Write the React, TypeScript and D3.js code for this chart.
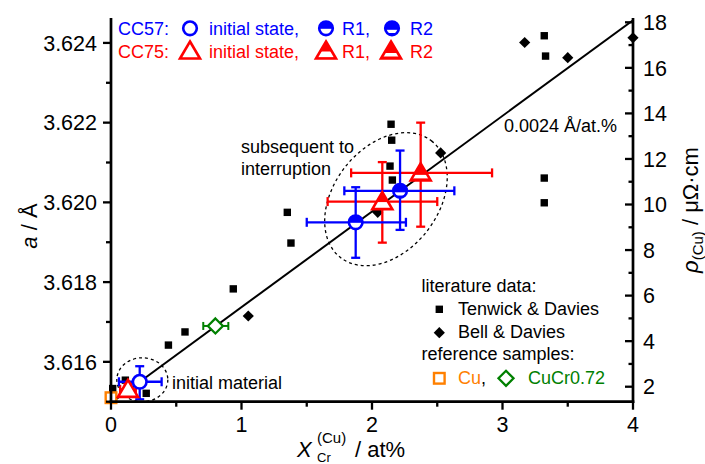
import React from 'react';
import * as d3 from 'd3';

const W = 705;
const H = 464;
const FONT = '"Liberation Sans", Arial, sans-serif';
const BLUE = '#0000ff';
const RED = '#ff0000';
const ORANGE = '#ff8000';
const GREEN = '#008000';

// axis ticks
const xMajor = [0, 1, 2, 3, 4];
const xMinor = [0.5, 1.5, 2.5, 3.5];
const aMajor = [3.616, 3.618, 3.62, 3.622, 3.624];
const aMinor = [3.615, 3.617, 3.619, 3.621, 3.623];
const rhoMajor = [2, 4, 6, 8, 10, 12, 14, 16, 18];
const rhoMinor = [3, 5, 7, 9, 11, 13, 15, 17];

// literature data: Tenwick & Davies (squares)
const tenwickX = [0.013, 0.11, 0.27, 0.44, 0.567, 0.937, 1.351, 1.379, 2.146, 2.151, 2.138, 2.156, 3.32, 3.33, 3.32, 3.32];
const tenwickA = [3.61533, 3.61554, 3.61521, 3.61642, 3.61675, 3.61783, 3.61975, 3.61898, 3.62196, 3.62156, 3.62091, 3.62056, 3.62418, 3.62367, 3.62061, 3.61999];
// Bell & Davies (diamonds)
const bellX = [1.052, 2.044, 2.526, 3.17, 3.5, 4.0];
const bellA = [3.61715, 3.61975, 3.62124, 3.62401, 3.62363, 3.62413];

// CC57 samples: initial, R1, R2
const cc57X = [0.22, 1.875, 2.215];
const cc57A = [3.6155, 3.6195, 3.62029];
const cc57XLo = [0.061, 1.5, 1.788];
const cc57XHi = [0.388, 2.26, 2.631];
const cc57ALo = [3.61506, 3.61861, 3.61931];
const cc57AHi = [3.61589, 3.62038, 3.6213];

// CC75 samples: initial, R1, R2
const cc75X = [0.13, 2.079, 2.373];
const cc75A = [3.61531, 3.62002, 3.62074];
const cc75XLo = [0.07, 1.66, 1.84];
const cc75XHi = [0.19, 2.5, 2.92];
const cc75ALo = [3.61516, 3.61899, 3.61939];
const cc75AHi = [3.61546, 3.62101, 3.622];

// reference samples
const cuX = 0;
const cuA = 3.6151;
const cucrX = 0.8;
const cucrA = 3.6169;
const cucrXLo = 0.707;
const cucrXHi = 0.899;

// linear fit: 0.0024 Å/at.%
const fitSlope = 0.0024;
const fitIntercept = 3.61497;

const x = d3.scaleLinear().domain([0, 4]).range([111, 633]);
const y = d3.scaleLinear().domain([3.615, 3.6246]).range([401.7, 19]);
const yR = d3.scaleLinear().domain([1.342, 18.145]).range([401.7, 19]);

const tri = (cx: number, cy: number, s = 1) =>
  `M${cx},${cy - 9.5 * s}L${cx + 10 * s},${cy + 7.5 * s}L${cx - 10 * s},${cy + 7.5 * s}Z`;

function Circle({ cx, cy, kind, color, id }: any) {
  const r = 6.8;
  return (
    <g>
      <defs>
        <clipPath id={id}>
          <circle cx={cx} cy={cy} r={r} />
        </clipPath>
      </defs>
      <circle cx={cx} cy={cy} r={r} fill={kind === 'init' ? '#fff' : color} />
      {kind === 'r1' && <rect x={cx - r} y={cy + 0.5} width={2 * r} height={r} fill="#fff" clipPath={`url(#${id})`} />}
      {kind === 'r2' && <rect x={cx - r} y={cy + 1.5} width={2 * r} height={3.2} fill="#fff" clipPath={`url(#${id})`} />}
      <circle cx={cx} cy={cy} r={r} fill="none" stroke={color} strokeWidth={2.6} />
    </g>
  );
}

function Tri({ cx, cy, kind, color, id }: any) {
  const d = tri(cx, cy);
  return (
    <g>
      <defs>
        <clipPath id={id}>
          <path d={d} />
        </clipPath>
      </defs>
      <path d={d} fill={kind === 'init' ? '#fff' : color} />
      {kind === 'r1' && <rect x={cx - 12} y={cy + 0.5} width={24} height={6} fill="#fff" clipPath={`url(#${id})`} />}
      {kind === 'r2' && <rect x={cx - 12} y={cy + 2} width={24} height={3.5} fill="#fff" clipPath={`url(#${id})`} />}
      <path d={d} fill="none" stroke={color} strokeWidth={2.6} strokeLinejoin="miter" />
    </g>
  );
}

function ErrBar({ px, pa, xlo, xhi, alo, ahi, color, sw = 2.3, cap = 4.5 }: any) {
  const cx = x(px), cy = y(pa);
  const x0 = x(xlo), x1 = x(xhi), y0 = y(alo), y1 = y(ahi);
  return (
    <g stroke={color} strokeWidth={sw} fill="none">
      <line x1={x0} y1={cy} x2={x1} y2={cy} />
      <line x1={x0} y1={cy - cap} x2={x0} y2={cy + cap} />
      <line x1={x1} y1={cy - cap} x2={x1} y2={cy + cap} />
      {alo !== undefined && (
        <>
          <line x1={cx} y1={y0} x2={cx} y2={y1} />
          <line x1={cx - cap} y1={y0} x2={cx + cap} y2={y0} />
          <line x1={cx - cap} y1={y1} x2={cx + cap} y2={y1} />
        </>
      )}
    </g>
  );
}

const diamond = (cx: number, cy: number, hw: number, hh: number) =>
  `M${cx},${cy - hh}L${cx + hw},${cy}L${cx},${cy + hh}L${cx - hw},${cy}Z`;

export default function App() {
  const kinds = ['init', 'r1', 'r2'];
  const x0 = x(0), x4 = x(4), yb = y(3.615), yt = y(3.6246);
  return (
    <svg width={W} height={H} style={{ position: 'absolute', left: 0, top: 0, background: '#fff' }} fontFamily={FONT}>
      <defs>
        <clipPath id="plotclip">
          <rect x={x0} y={yt} width={x4 - x0} height={yb - yt} />
        </clipPath>
      </defs>

      {/* literature data */}
      {tenwickX.map((v, i) => (
        <rect key={'t' + i} x={x(v) - 3.7} y={y(tenwickA[i]) - 3.7} width={7.4} height={7.4} fill="#000" />
      ))}
      {bellX.map((v, i) => (
        <path key={'b' + i} d={diamond(x(v), y(bellA[i]), 5.6, 5.6)} fill="#000" />
      ))}

      {/* fit line */}
      <line
        clipPath="url(#plotclip)"
        x1={x(0)} y1={y(fitIntercept)} x2={x(4)} y2={y(fitIntercept + fitSlope * 4)}
        stroke="#000" strokeWidth={2}
      />

      {/* dashed ellipses */}
      <ellipse cx={x(0.24)} cy={y(3.61555)} rx={25.5} ry={22} fill="none" stroke="#000" strokeWidth={1.3} strokeDasharray="3,3" />
      <ellipse
        cx={0} cy={0} rx={74} ry={52}
        transform={`translate(${x(2.107)},${y(3.62008)}) rotate(-52)`}
        fill="none" stroke="#000" strokeWidth={1.3} strokeDasharray="3,3"
      />

      {/* reference samples */}
      <ErrBar px={cucrX} pa={cucrA} xlo={cucrXLo} xhi={cucrXHi} color={GREEN} sw={2} cap={4} />
      <path d={diamond(x(cucrX), y(cucrA), 7.5, 7.5)} fill="#fff" stroke={GREEN} strokeWidth={2.3} />
      <rect x={x(cuX) - 5.3} y={y(cuA) - 5.3} width={10.6} height={10.6} fill="#fff" stroke={ORANGE} strokeWidth={2.4} />

      {/* error bars */}
      {cc75X.map((v, i) => (
        <ErrBar key={'e75' + i} px={v} pa={cc75A[i]} xlo={cc75XLo[i]} xhi={cc75XHi[i]} alo={cc75ALo[i]} ahi={cc75AHi[i]} color={RED} />
      ))}
      {cc57X.map((v, i) => (
        <ErrBar key={'e57' + i} px={v} pa={cc57A[i]} xlo={cc57XLo[i]} xhi={cc57XHi[i]} alo={cc57ALo[i]} ahi={cc57AHi[i]} color={BLUE} />
      ))}
      {cc75X.map((v, i) => (
        <Tri key={'m75' + i} id={'ct75' + i} cx={x(v)} cy={y(cc75A[i])} kind={kinds[i]} color={RED} />
      ))}
      {cc57X.map((v, i) => (
        <Circle key={'m57' + i} id={'cc57' + i} cx={x(v)} cy={y(cc57A[i])} kind={kinds[i]} color={BLUE} />
      ))}

      {/* axes */}
      <g stroke="#000" strokeWidth={2.7} fill="none">
        <line x1={x0} y1={yt - 1} x2={x0} y2={yb + 1.3} />
        <line x1={x4} y1={yt - 1} x2={x4} y2={yb + 1.3} />
        <line x1={x0 - 1.3} y1={yb} x2={x4 + 1.3} y2={yb} />
      </g>
      <g stroke="#000" strokeWidth={2.3}>
        {xMajor.map((t) => <line key={'xm' + t} x1={x(t)} x2={x(t)} y1={yb} y2={yb + 8} />)}
        {xMinor.map((t) => <line key={'xn' + t} x1={x(t)} x2={x(t)} y1={yb} y2={yb + 5} />)}
        {aMajor.map((t) => <line key={'am' + t} x1={x0} x2={x0 - 8} y1={y(t)} y2={y(t)} />)}
        {aMinor.map((t) => <line key={'an' + t} x1={x0} x2={x0 - 5} y1={y(t)} y2={y(t)} />)}
        {rhoMajor.map((t) => <line key={'rm' + t} x1={x4} x2={x4 - 8} y1={yR(t)} y2={yR(t)} />)}
        {rhoMinor.map((t) => <line key={'rn' + t} x1={x4} x2={x4 - 4.5} y1={yR(t)} y2={yR(t)} />)}
      </g>
      <g fontSize={21.5} fill="#000">
        {xMajor.map((t) => (
          <text key={'xl' + t} x={x(t)} y={432} textAnchor="middle">{t}</text>
        ))}
        {aMajor.map((t) => (
          <text key={'al' + t} x={97} y={y(t) + 7.7} textAnchor="end">{d3.format('.3f')(t)}</text>
        ))}
        {rhoMajor.map((t) => (
          <text key={'rl' + t} x={643} y={yR(t) + 7.7} textAnchor="start">{t}</text>
        ))}
      </g>

      {/* axis titles */}
      <text transform="translate(37,226) rotate(-90)" textAnchor="middle" fontSize={22}>
        <tspan fontStyle="italic">a</tspan> / Å
      </text>
      <text transform="translate(698,210) rotate(-90)" textAnchor="middle" fontSize={22}>
        <tspan fontStyle="italic">ρ</tspan>
        <tspan fontSize={15} dy={5}>(Cu)</tspan>
        <tspan dy={-5}> / μΩ·cm</tspan>
      </text>
      <g fill="#000">
        <text x={297} y={457} fontSize={22} fontStyle="italic">X</text>
        <text x={317} y={443} fontSize={15}>(Cu)</text>
        <text x={317} y={462} fontSize={13}>Cr</text>
        <text x={355} y={457} fontSize={22}>/ at%</text>
      </g>

      {/* annotations */}
      <g fontSize={18} fill="#000">
        <text x={241} y={152.5}>subsequent to</text>
        <text x={241} y={175}>interruption</text>
        <text x={172} y={388.5}>initial material</text>
        <text x={504} y={132}>0.0024 Å/at.%</text>
      </g>

      {/* top-left legend */}
      <g fontSize={18}>
        <text x={118} y={34.5} fill={BLUE}>CC57:</text>
        <Circle id="lg1" cx={190} cy={28.3} kind="init" color={BLUE} />
        <text x={209} y={34.5} fill={BLUE}>initial state,</text>
        <Circle id="lg2" cx={326} cy={28.3} kind="r1" color={BLUE} />
        <text x={342} y={34.5} fill={BLUE}>R1,</text>
        <Circle id="lg3" cx={392} cy={28.3} kind="r2" color={BLUE} />
        <text x={410} y={34.5} fill={BLUE}>R2</text>

        <text x={118} y={57.5} fill={RED}>CC75:</text>
        <Tri id="lg4" cx={190} cy={51} kind="init" color={RED} />
        <text x={209} y={57.5} fill={RED}>initial state,</text>
        <Tri id="lg5" cx={326} cy={51} kind="r1" color={RED} />
        <text x={342} y={57.5} fill={RED}>R1,</text>
        <Tri id="lg6" cx={391} cy={51} kind="r2" color={RED} />
        <text x={410} y={57.5} fill={RED}>R2</text>
      </g>

      {/* bottom-right legend */}
      <g fontSize={18} fill="#000">
        <text x={421.5} y={291.5}>literature data:</text>
        <rect x={439.3 - 3.7} y={309.3 - 3.7} width={7.4} height={7.4} fill="#000" />
        <text x={458} y={314.5}>Tenwick &amp; Davies</text>
        <path d={diamond(439.3, 332.7, 5.6, 5.6)} fill="#000" />
        <text x={458} y={337.5}>Bell &amp; Davies</text>
        <text x={421.5} y={360}>reference samples:</text>
        <rect x={439.3 - 5.3} y={378.3 - 5.3} width={10.6} height={10.6} fill="#fff" stroke={ORANGE} strokeWidth={2.4} />
        <text x={458} y={384} fill={ORANGE}>Cu</text>
        <text x={481} y={384} fill="#000">,</text>
        <path d={diamond(506, 378.3, 7.5, 7.5)} fill="#fff" stroke={GREEN} strokeWidth={2.3} />
        <text x={528} y={384} fill={GREEN}>CuCr0.72</text>
      </g>
    </svg>
  );
}
